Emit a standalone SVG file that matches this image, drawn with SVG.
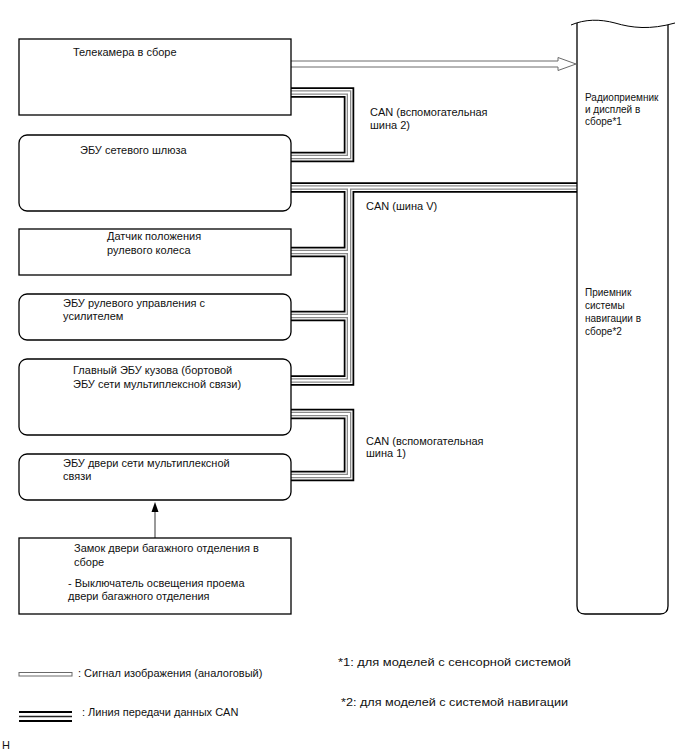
<svg xmlns="http://www.w3.org/2000/svg" width="688" height="755" viewBox="0 0 688 755">
<style>
.box{fill:#fff;stroke:#000;stroke-width:1.3}
.t{font-family:"Liberation Sans",Arial,sans-serif;font-size:11px;fill:#111}
.r{font-size:10px}
.c1{fill:none;stroke:#000;stroke-width:10.5}
.c2{fill:none;stroke:#fff;stroke-width:7}
.c3{fill:none;stroke:#8a8a8a;stroke-width:4.6}
.c4{fill:none;stroke:#fff;stroke-width:2}
</style>
<defs>
<path id="canpaths" d="M291,92.5 H349 V157 H291 M291,187.5 H577 M349,187.5 V380.5 H291 M349,252 H291 M349,316 H291 M291,414 H349 V476 H291"/>
</defs>
<rect width="688" height="755" fill="#fff"/>
<g id="connectors">
<use href="#canpaths" class="c1"/>
<use href="#canpaths" class="c2"/>
<use href="#canpaths" class="c3"/>
<use href="#canpaths" class="c4"/>
<path d="M291,61 H558 V57.5 L576,64 L558,70.5 V67 H291" fill="#fff" stroke="#6a6a6a" stroke-width="1"/>
<line x1="155" y1="538" x2="155" y2="508" stroke="#555" stroke-width="1.2"/>
<path d="M155,502 L158.5,512 L151.5,512 Z" fill="#000"/>
</g>
<g id="n1"><rect class="box" x="19" y="39" width="272" height="76"/><text class="t" x="73" y="56">Телекамера в сборе</text></g>
<g id="n2"><rect class="box" x="19" y="135" width="272" height="76" rx="8"/><text class="t" x="80" y="154">ЭБУ сетевого шлюза</text></g>
<g id="n3"><rect class="box" x="19" y="229" width="272" height="46"/><text class="t" x="107" y="240">Датчик положения</text><text class="t" x="107" y="254">рулевого колеса</text></g>
<g id="n4"><rect class="box" x="19" y="294" width="272" height="46" rx="8"/><text class="t" x="63" y="307">ЭБУ рулевого управления с</text><text class="t" x="63" y="320">усилителем</text></g>
<g id="n5"><rect class="box" x="19" y="359" width="272" height="76" rx="8"/><text class="t" x="73" y="374">Главный ЭБУ кузова (бортовой</text><text class="t" x="73" y="388">ЭБУ сети мультиплексной связи)</text></g>
<g id="n6"><rect class="box" x="19" y="454" width="272" height="46" rx="8"/><text class="t" x="63" y="467">ЭБУ двери сети мультиплексной</text><text class="t" x="63" y="480">связи</text></g>
<g id="n7"><rect class="box" x="19" y="538" width="272" height="76"/><text class="t" x="74" y="552">Замок двери багажного отделения в</text><text class="t" x="74" y="566">сборе</text><text class="t" x="68" y="587">- Выключатель освещения проема</text><text class="t" x="68" y="600">двери багажного отделения</text></g>
<g id="n8">
<path d="M577,23 V606 Q577,614 585,614 H660 Q668,614 668,606 V25" fill="#fff" stroke="#000" stroke-width="1.3"/>
<path d="M571,25 C585,19 600,19 615,23 C632,28 650,30 675,23" fill="none" stroke="#000" stroke-width="1"/>
<text class="t r" x="585" y="101">Радиоприемник</text><text class="t r" x="585" y="113">и дисплей в</text><text class="t r" x="585" y="125">сборе*1</text>
<text class="t r" x="585" y="296">Приемник</text><text class="t r" x="585" y="309">системы</text><text class="t r" x="585" y="322">навигации в</text><text class="t r" x="585" y="335">сборе*2</text>
</g>
<g id="labels">
<text class="t" x="370" y="116">CAN (вспомогательная</text><text class="t" x="370" y="129">шина 2)</text>
<text class="t" x="366" y="209.5">CAN (шина V)</text>
<text class="t" x="366" y="445">CAN (вспомогательная</text><text class="t" x="366" y="457">шина 1)</text>
</g>
<g id="legend">
<rect x="19" y="672.5" width="53" height="3.5" fill="#fff" stroke="#6a6a6a" stroke-width="1"/>
<text class="t" x="78" y="677">: Сигнал изображения (аналоговый)</text>
<line x1="19" y1="712" x2="72" y2="712" stroke="#000" stroke-width="1.9"/>
<line x1="19" y1="716.5" x2="72" y2="716.5" stroke="#222" stroke-width="1.3"/>
<line x1="19" y1="721" x2="72" y2="721" stroke="#000" stroke-width="1.9"/>
<text class="t" x="82" y="716">: Линия передачи данных CAN</text>
<text class="t" x="338" y="666" textLength="233" lengthAdjust="spacingAndGlyphs">*1: для моделей с сенсорной системой</text>
<text class="t" x="341" y="706" textLength="227" lengthAdjust="spacingAndGlyphs">*2: для моделей с системой навигации</text>
<text class="t" x="2" y="749">H</text>
</g>
</svg>
